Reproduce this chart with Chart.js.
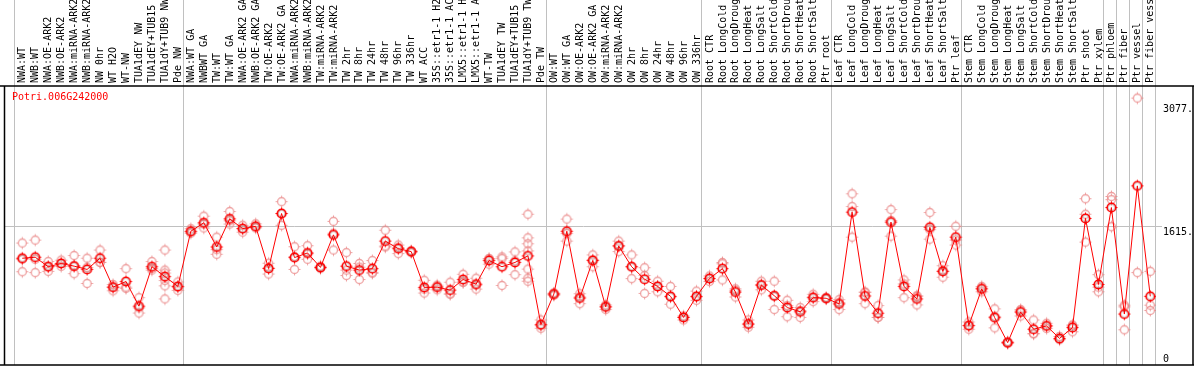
<!DOCTYPE html>
<html>
<head>
<meta charset="utf-8">
<script src="https://cdn.jsdelivr.net/npm/chart.js@4.4.1/dist/chart.umd.min.js"></script>
<style>
  body { margin: 0; background: #fff; }
  #chart { display: block; }
</style>
</head>
<body>
<canvas id="chart" width="1194" height="370"></canvas>
<script>
const geneName = 'Potri.006G242000';

const categories = [
  'NWA:WT', 'NWB:WT', 'NWA:OE-ARK2', 'NWB:OE-ARK2', 'NWA:miRNA-ARK2', 'NWB:miRNA-ARK2', 'NW 0hr', 'WT H2O',
  'WT-NW', 'TUA1dEY NW', 'TUA1dEY+TUB15 NW', 'TUA1dY+TUB9 NW', 'Pde NW',
  'NWA:WT GA', 'NWBWT GA', 'TW:WT', 'TW:WT GA', 'NWA:OE-ARK2 GA', 'NWB:OE-ARK2 GA', 'TW:OE-ARK2', 'TW:OE-ARK2 GA',
  'NWA:miRNA-ARK2 GA', 'NWB:miRNA-ARK2 GA', 'TW:miRNA-ARK2', 'TW:miRNA-ARK2 GA', 'TW 2hr', 'TW 8hr', 'TW 24hr',
  'TW 48hr', 'TW 96hr', 'TW 336hr', 'WT ACC', '35S::etr1-1 H2O', '35S::etr1-1 ACC', 'LMX5::etr1-1 H2O',
  'LMX5::etr1-1 ACC', 'WT-TW', 'TUA1dEY TW', 'TUA1dEY+TUB15 TW', 'TUA1dY+TUB9 TW', 'Pde TW',
  'OW:WT', 'OW:WT GA', 'OW:OE-ARK2', 'OW:OE-ARK2 GA', 'OW:miRNA-ARK2', 'OW:miRNA-ARK2 GA', 'OW 2hr', 'OW 8hr',
  'OW 24hr', 'OW 48hr', 'OW 96hr', 'OW 336hr',
  'Root CTR', 'Root LongCold', 'Root LongDrought', 'Root LongHeat', 'Root LongSalt', 'Root ShortCold',
  'Root ShortDrought', 'Root ShortHeat', 'Root ShortSalt', 'Ptr root',
  'Leaf CTR', 'Leaf LongCold', 'Leaf LongDrought', 'Leaf LongHeat', 'Leaf LongSalt', 'Leaf ShortCold',
  'Leaf ShortDrought', 'Leaf ShortHeat', 'Leaf ShortSalt', 'Ptr leaf',
  'Stem CTR', 'Stem LongCold', 'Stem LongDrought', 'Stem LongHeat', 'Stem LongSalt', 'Stem ShortCold',
  'Stem ShortDrought', 'Stem ShortHeat', 'Stem ShortSalt', 'Ptr shoot', 'Ptr xylem',
  'Ptr phloem', 'Ptr fiber', 'Ptr vessel', 'Ptr fiber vessel'
];

// index of the first category of each group (last entry closes the plot)
const groupStarts = [0, 13, 41, 53, 63, 73, 84, 85, 86, 87, 88];

const meanValues = [
  1235, 1247, 1134, 1173, 1141, 1102, 1235, 891, 958, 665, 1134, 1017, 900,
  1556, 1657, 1369, 1704, 1587, 1615, 1114, 1767, 1243, 1298, 1126, 1513, 1141, 1094, 1111,
  1439, 1349, 1314, 888, 891, 856, 982, 927, 1208, 1134, 1185, 1263, 446,
  809, 1556, 762, 1208, 657, 1380, 1134, 985, 900, 782, 531, 782,
  993, 1111, 833, 454, 915, 789, 649, 598, 766, 759,
  692, 1783, 786, 581, 1665, 900, 751, 1603, 1079, 1486,
  434, 871, 528, 231, 595, 391, 430, 281, 410, 1709, 923,
  1838, 571, 2096, 782
];

const replicates = [
  [1416, 1223, 1075], [1451, 1223, 1064], [1196, 1138, 1079], [1212, 1173, 1138], [1267, 1146, 1052],
  [1235, 1126, 935], [1333, 1188, 1185], [923, 891, 848], [1111, 891, 876], [766, 645, 583],
  [1196, 1114, 1094], [1333, 1094, 1059, 970, 907, 751], [953, 891, 853],
  [1587, 1548, 1533], [1736, 1642, 1595], [1486, 1337, 1282], [1791, 1681, 1642], [1627, 1589, 1545],
  [1645, 1603, 1595], [1176, 1118, 1047], [1908, 1767, 1627], [1372, 1255, 1102], [1384, 1287, 1223],
  [1141, 1126, 1111], [1674, 1533, 1333], [1302, 1094, 1029], [1173, 1129, 982], [1208, 1067, 1056],
  [1568, 1380, 1369], [1392, 1364, 1290], [1325, 1314, 1302], [973, 868, 821], [915, 900, 860],
  [950, 813, 806], [1044, 950, 950], [997, 915, 868], [1231, 1228, 1165], [1251, 1231, 911],
  [1310, 1204, 1040], [1759, 1478, 1407, 1322, 1106, 997, 962], [501, 434, 402],
  [821, 809, 794], [1701, 1528, 1439], [813, 774, 695], [1275, 1216, 1134], [680, 657, 625],
  [1439, 1387, 1314], [1275, 1134, 993], [1122, 1029, 817], [962, 900, 836], [900, 774, 688],
  [548, 531, 501], [844, 774, 735],
  [1024, 997, 958], [1185, 1169, 977], [871, 853, 774], [501, 446, 414], [962, 923, 860],
  [962, 782, 625], [735, 672, 539], [649, 613, 531], [806, 774, 719], [768, 759, 751],
  [742, 707, 625], [2002, 1850, 1486], [833, 829, 695], [672, 531, 531], [1814, 1685, 1498],
  [977, 930, 766], [789, 782, 680], [1779, 1575, 1462], [1146, 1082, 1009], [1615, 1451, 1392],
  [477, 434, 391], [900, 880, 836], [633, 543, 407], [243, 231, 223], [625, 610, 548],
  [501, 337, 337], [461, 430, 399], [305, 273, 266], [442, 430, 360], [1943, 1759, 1427],
  [1040, 891, 836],
  [1970, 1932, 1610], [677, 657, 384], [3140, 1064], [1079, 677, 614]
];

const yTicks = [0, 1615, 3077];
const yTickLabels = ['0', '1615.', '3077.'];

const FONT = '10px "DejaVu Sans Mono", "Liberation Mono", monospace';

function marker(color, ring) {
  const c = document.createElement('canvas');
  c.width = 15;
  c.height = 15;
  const g = c.getContext('2d');
  g.strokeStyle = color;
  g.lineWidth = ring ? 1.6 : 1.3;
  g.beginPath();
  g.arc(7.5, 7.5, ring ? 4.3 : 4, 0, Math.PI * 2);
  g.stroke();
  g.lineWidth = 1;
  g.beginPath();
  g.moveTo(7.5, 1.5); g.lineTo(7.5, 3.2);
  g.moveTo(7.5, 11.8); g.lineTo(7.5, 13.5);
  g.moveTo(1.5, 7.5); g.lineTo(3.2, 7.5);
  g.moveTo(11.8, 7.5); g.lineTo(13.5, 7.5);
  g.stroke();
  if (ring) {
    g.strokeStyle = 'rgba(0,0,0,0.3)';
    g.lineWidth = 0.6;
    g.beginPath();
    g.arc(7.5, 7.5, 3.1, 0, Math.PI * 2);
    g.stroke();
  }
  return c;
}

const meanPoints = meanValues.map((v, i) => ({ x: i, y: v }));
const replicatePoints = replicates.flatMap((vals, i) => vals.map(v => ({ x: i, y: v })));

const decorations = {
  id: 'decorations',
  beforeDatasetsDraw(chart) {
    const { ctx, chartArea: a, scales: { x, y } } = chart;
    ctx.save();
    ctx.strokeStyle = '#c0c0c0';
    ctx.lineWidth = 1;
    groupStarts.forEach(s => {
      const px = Math.round(x.getPixelForValue(s - 8 / 13)) + 0.5;
      ctx.beginPath();
      ctx.moveTo(px, 0);
      ctx.lineTo(px, a.bottom);
      ctx.stroke();
    });
    const py = Math.round(y.getPixelForValue(yTicks[1])) + 0.5;
    ctx.beginPath();
    ctx.moveTo(a.left, py);
    ctx.lineTo(a.right + 6, py);
    ctx.stroke();
    ctx.restore();
  },
  afterDatasetsDraw(chart) {
    const { ctx, chartArea: a, scales: { x, y }, width } = chart;
    ctx.save();
    ctx.font = FONT;
    ctx.fillStyle = '#000';

    // category labels, reading bottom to top
    categories.forEach((name, i) => {
      ctx.save();
      ctx.translate(x.getPixelForValue(i), a.top - 3);
      ctx.rotate(-Math.PI / 2);
      ctx.textAlign = 'left';
      ctx.textBaseline = 'middle';
      ctx.fillText(name, 0, 0.5);
      ctx.restore();
    });

    // right axis labels
    ctx.textAlign = 'left';
    ctx.textBaseline = 'top';
    yTicks.forEach((v, k) => {
      const top = Math.min(y.getPixelForValue(v) + 1, a.bottom - 11);
      ctx.fillText(yTickLabels[k], a.right + 7, top);
    });

    ctx.fillStyle = '#ff0000';
    ctx.textBaseline = 'middle';
    ctx.fillText(geneName, a.left + 7, a.top + 11);

    // frame
    ctx.strokeStyle = '#000';
    ctx.lineWidth = 1.5;
    ctx.beginPath();
    ctx.moveTo(0, a.top); ctx.lineTo(width, a.top);
    ctx.moveTo(0, a.bottom); ctx.lineTo(width, a.bottom);
    ctx.moveTo(a.left - 0.5, a.top); ctx.lineTo(a.left - 0.5, a.bottom);
    ctx.moveTo(width - 1, a.top); ctx.lineTo(width - 1, a.bottom);
    ctx.stroke();
    ctx.restore();
  }
};

const ctx = document.getElementById('chart');
const chart = new Chart(ctx, {
  type: 'scatter',
  data: {
    datasets: [
      {
        type: 'line',
        label: 'mean',
        data: meanPoints,
        borderColor: '#ff0000',
        borderWidth: 1,
        tension: 0,
        pointStyle: marker('#ff0000', true),
        pointRadius: 4
      },
      {
        label: 'replicates',
        data: replicatePoints,
        pointStyle: marker('rgba(232,128,128,0.75)', false),
        pointRadius: 4
      }
    ]
  },
  options: {
    responsive: false,
    animation: false,
    devicePixelRatio: 1,
    layout: { padding: { left: 2, right: 38, top: 86, bottom: 1 } },
    plugins: { legend: { display: false }, tooltip: { enabled: false } },
    scales: {
      x: { type: 'linear', min: -1.331, max: 87.44, display: false },
      y: { type: 'linear', min: -35, max: 3284, display: false }
    }
  },
  plugins: [decorations]
});
</script>
</body>
</html>
